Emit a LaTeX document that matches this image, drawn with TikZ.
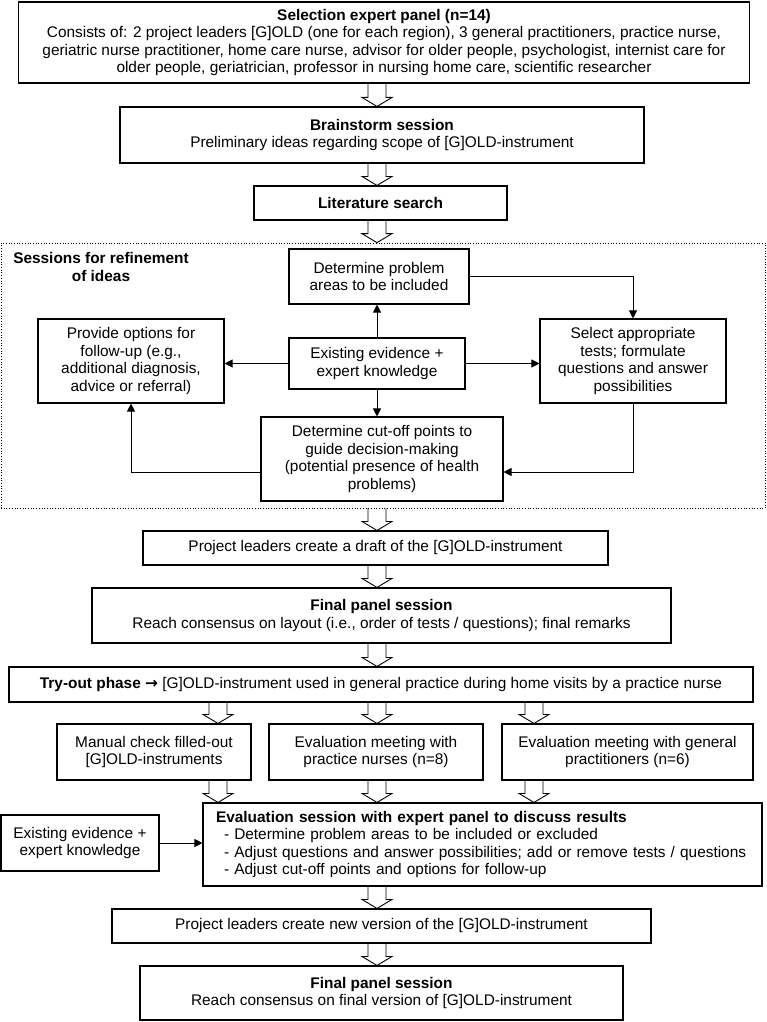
\documentclass[tikz,border=0pt]{standalone}
\usepackage{fontspec}
\setmainfont{Liberation Sans}
\newfontfamily\arrowfont{DejaVu Sans}
\usetikzlibrary{arrows.meta,calc}

\newcommand{\mainsz}{\fontsize{15.4}{17.6}\selectfont}
% hollow block arrow: x position, from anchor, to anchor
\newcommand{\fatarrow}[3]{%
  \draw[line width=0.9pt] let \p1=(#2), \p2=(#3), \p3=(#1,0) in
    (\x3-9pt,\y1) -- (\x3-9pt,\y2+9pt) -- (\x3-15pt,\y2+9pt) -- (\x3,\y2)
    -- (\x3+15pt,\y2+9pt) -- (\x3+9pt,\y2+9pt) -- (\x3+9pt,\y1);}

\begin{document}
\begin{tikzpicture}[x=1pt, y=-1pt,
  box/.style={draw, line width=1.1pt, align=center, inner sep=0pt, font=\mainsz},
  arr/.style={line width=0.9pt, -{Triangle[length=8pt,width=8pt]}}]
  \useasboundingbox (0,0) rectangle (767,1022);

  % top part
  \node[box, minimum width=731pt, minimum height=81pt] (sel) at (384,42.5)
    {\textbf{Selection expert panel (n=14)}\\
     Consists of: 2 project leaders [G]OLD (one for each region), 3 general practitioners, practice nurse,\\
     geriatric nurse practitioner, home care nurse, advisor for older people, psychologist, internist care for\\
     older people, geriatrician, professor in nursing home care, scientific researcher};
  \node[box, minimum width=524pt, minimum height=56pt] (brain) at (382,135)
    {\textbf{Brainstorm session}\\Preliminary ideas regarding scope of [G]OLD-instrument};
  \node[box, minimum width=253pt, minimum height=34pt] (lit) at (380.5,203)
    {\textbf{Literature search}};

  % refinement sessions
  \node[draw, dotted, line width=0.7pt, minimum width=764pt, minimum height=265pt] (refine) at (383,375.5) {};
  \node[align=center, font=\mainsz\bfseries] (lbl) at (101,267) {Sessions for refinement\\of ideas};
  \node[box, minimum width=180pt, minimum height=55pt] (prob) at (379,276.5)
    {Determine problem\\areas to be included};
  \node[box, minimum width=176pt, minimum height=51pt] (exist) at (377,363.5)
    {Existing evidence +\\expert knowledge};
  \node[box, minimum width=186pt, minimum height=84pt] (opts) at (131,361)
    {Provide options for\\follow-up (e.g.,\\additional diagnosis,\\advice or referral)};
  \node[box, minimum width=186pt, minimum height=84pt] (tests) at (633,361)
    {Select appropriate\\tests; formulate\\questions and answer\\possibilities};
  \node[box, minimum width=242pt, minimum height=84pt] (cut) at (382,459)
    {Determine cut-off points to\\guide decision-making\\(potential presence of health\\problems)};

  \draw[arr] (exist.north) -- (exist.north |- prob.south);
  \draw[arr] (exist.south) -- (exist.south |- cut.north);
  \draw[arr] (exist.west) -- (exist.west -| opts.east);
  \draw[arr] (exist.east) -- (exist.east -| tests.west);
  \draw[arr] (prob.east) -| (tests.north);
  \draw[arr] (tests.south) |- ([yshift=-13pt]cut.east);
  \draw[arr] ([yshift=-13pt]cut.west) -| (opts.south);

  % after refinement
  \node[box, minimum width=465pt, minimum height=34pt] (draft) at (375.5,548)
    {Project leaders create a draft of the [G]OLD-instrument};
  \node[box, minimum width=579pt, minimum height=55pt] (final1) at (381.5,615.5)
    {\textbf{Final panel session}\\Reach consensus on layout (i.e., order of tests / questions); final remarks};
  \node[box, minimum width=744pt, minimum height=35pt] (try) at (381,684.5)
    {\textbf{Try-out phase {\arrowfont→}} [G]OLD-instrument used in general practice during home visits by a practice nurse};
  \node[box, minimum width=194pt, minimum height=56pt] (man) at (154,752)
    {Manual check filled-out\\{}[G]OLD-instruments};
  \node[box, minimum width=214pt, minimum height=56pt] (nurse) at (376,752)
    {Evaluation meeting with\\practice nurses (n=8)};
  \node[box, minimum width=251pt, minimum height=56pt] (gp) at (627.5,752)
    {Evaluation meeting with general\\practitioners (n=6)};
  \node[box, align=left, text width=533pt, inner xsep=13pt, minimum height=83pt] (eval) at (482.5,844.5)
    {\textbf{Evaluation session with expert panel to discuss results}\\
     \hspace*{8pt}- Determine problem areas to be included or excluded\\
     \hspace*{8pt}- Adjust questions and answer possibilities; add or remove tests / questions\\
     \hspace*{8pt}- Adjust cut-off points and options for follow-up};
  \node[box, minimum width=158pt, minimum height=56pt] (exist2) at (80,843)
    {Existing evidence +\\expert knowledge};
  \node[box, minimum width=539pt, minimum height=34pt] (newv) at (381.5,926)
    {Project leaders create new version of the [G]OLD-instrument};
  \node[box, minimum width=483pt, minimum height=54pt] (final2) at (381.5,993)
    {\textbf{Final panel session}\\Reach consensus on final version of [G]OLD-instrument};

  \draw[arr] (exist2.east) -- (exist2.east -| eval.west);

  % block arrows
  \fatarrow{377}{sel.south}{brain.north}
  \fatarrow{377}{brain.south}{lit.north}
  \fatarrow{377}{lit.south}{refine.north}
  \fatarrow{377}{refine.south}{draft.north}
  \fatarrow{377}{draft.south}{final1.north}
  \fatarrow{377}{final1.south}{try.north}
  \fatarrow{218}{try.south}{man.north}
  \fatarrow{377}{try.south}{nurse.north}
  \fatarrow{534}{try.south}{gp.north}
  \fatarrow{218}{man.south}{eval.north}
  \fatarrow{377}{nurse.south}{eval.north}
  \fatarrow{534}{gp.south}{eval.north}
  \fatarrow{377}{eval.south}{newv.north}
  \fatarrow{377}{newv.south}{final2.north}
\end{tikzpicture}
\end{document}
